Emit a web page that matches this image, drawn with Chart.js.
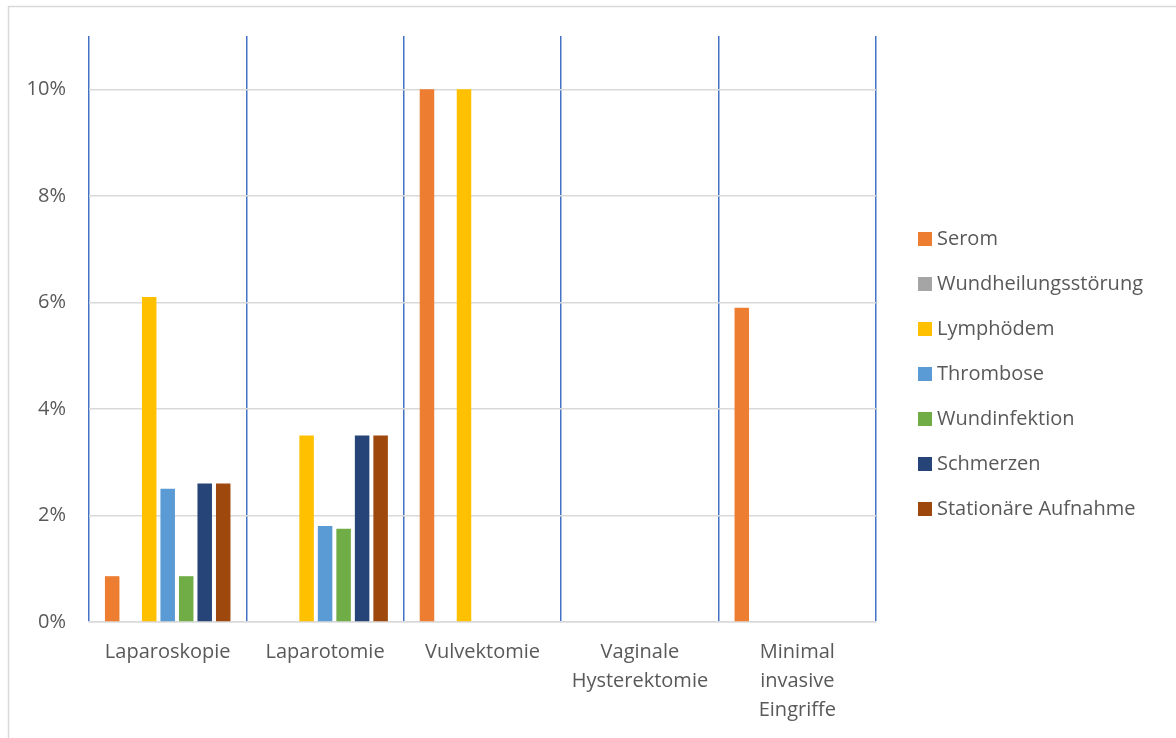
<!DOCTYPE html>
<html>
<head>
<meta charset="utf-8">
<script src="https://cdn.jsdelivr.net/npm/chart.js@4/dist/chart.umd.min.js"></script>
<style>
  html, body { margin: 0; padding: 0; background: #fff; }
  #wrap { width: 1176px; height: 738px; position: relative; }
</style>
</head>
<body>
<div id="wrap"><canvas id="c" width="1176" height="738"></canvas></div>
<script>
// Eingriffsarten (x-Achse)
const categories = [
  'Laparoskopie',
  'Laparotomie',
  'Vulvektomie',
  ['Vaginale', 'Hysterektomie'],
  ['Minimal', 'invasive', 'Eingriffe']
];

// Komplikationsraten in Prozent je Eingriffsart
const serom         = [0.86, 0,    10, 0, 5.9];
const wundheilung   = [0,    0,    0,  0, 0];
const lymphoedem    = [6.1,  3.5,  10, 0, 0];
const thrombose     = [2.5,  1.8,  0,  0, 0];
const wundinfektion = [0.86, 1.75, 0,  0, 0];
const schmerzen     = [2.6,  3.5,  0,  0, 0];
const stationaer    = [2.6,  3.5,  0,  0, 0];

const seriesNames = ['Serom', 'Wundheilungsstörung', 'Lymphödem', 'Thrombose',
                     'Wundinfektion', 'Schmerzen', 'Stationäre Aufnahme'];
const seriesValues = [serom, wundheilung, lymphoedem, thrombose,
                      wundinfektion, schmerzen, stationaer];
const seriesColors = ['#ED7D31', '#A5A5A5', '#FFC000', '#5B9BD5',
                      '#70AD47', '#264478', '#9E480E'];

// y-Achse: 0 % bis 10 % in 2er-Schritten
const yTicks = [0, 2, 4, 6, 8, 10];

const FONT = '"Open Sans", Lato, sans-serif';
const TEXT = '#595959';

// Rahmen um die Grafik
const framePlugin = {
  id: 'frame',
  beforeDraw(chart) {
    const ctx = chart.ctx;
    ctx.save();
    ctx.fillStyle = '#fff';
    ctx.fillRect(0, 0, chart.width, chart.height);
    ctx.strokeStyle = '#d9d9d9';
    ctx.lineWidth = 1.5;
    ctx.strokeRect(8.5, 6.5, 1400, 1000);
    ctx.restore();
  }
};

// Legende rechts neben dem Diagramm
const sideLegend = {
  id: 'sideLegend',
  afterDraw(chart) {
    const ctx = chart.ctx;
    ctx.save();
    ctx.font = '20px ' + FONT;
    ctx.textBaseline = 'middle';
    ctx.textAlign = 'left';
    chart.data.datasets.forEach((ds, i) => {
      const cy = 239 + i * 45;
      ctx.fillStyle = ds.backgroundColor;
      ctx.fillRect(918, cy - 7, 14, 14);
      ctx.fillStyle = TEXT;
      ctx.fillText(ds.label, 937, cy);
    });
    ctx.restore();
  }
};

new Chart(document.getElementById('c'), {
  type: 'bar',
  data: {
    labels: categories,
    datasets: seriesNames.map((name, i) => ({
      label: name,
      data: seriesValues[i],
      backgroundColor: seriesColors[i],
      borderWidth: 0,
      categoryPercentage: 0.823,
      barPercentage: 0.784
    }))
  },
  options: {
    responsive: false,
    animation: false,
    devicePixelRatio: 1,
    layout: { padding: { left: 0, right: 300, top: 36, bottom: 0 } },
    plugins: {
      legend: { display: false },
      tooltip: { enabled: false }
    },
    scales: {
      x: {
        offset: true,
        grid: {
          offset: true,
          color: '#4472C4',
          lineWidth: 1.5,
          drawTicks: false
        },
        border: { display: true, color: '#d9d9d9', width: 1.5 },
        ticks: {
          color: TEXT,
          font: { family: FONT, size: 20, lineHeight: 1.45 },
          padding: 16,
          maxRotation: 0,
          autoSkip: false
        },
        afterFit(scale) { scale.height = 116; }
      },
      y: {
        min: 0,
        max: 11,
        border: { display: false },
        grid: { color: '#d9d9d9', lineWidth: 1.5, drawTicks: false },
        afterBuildTicks(scale) {
          scale.ticks = yTicks.map(v => ({ value: v }));
        },
        ticks: {
          color: TEXT,
          font: { family: FONT, size: 20 },
          padding: 23,
          callback: v => v + '%'
        },
        afterFit(scale) { scale.width = 89; }
      }
    }
  },
  plugins: [framePlugin, sideLegend]
});
</script>
</body>
</html>
